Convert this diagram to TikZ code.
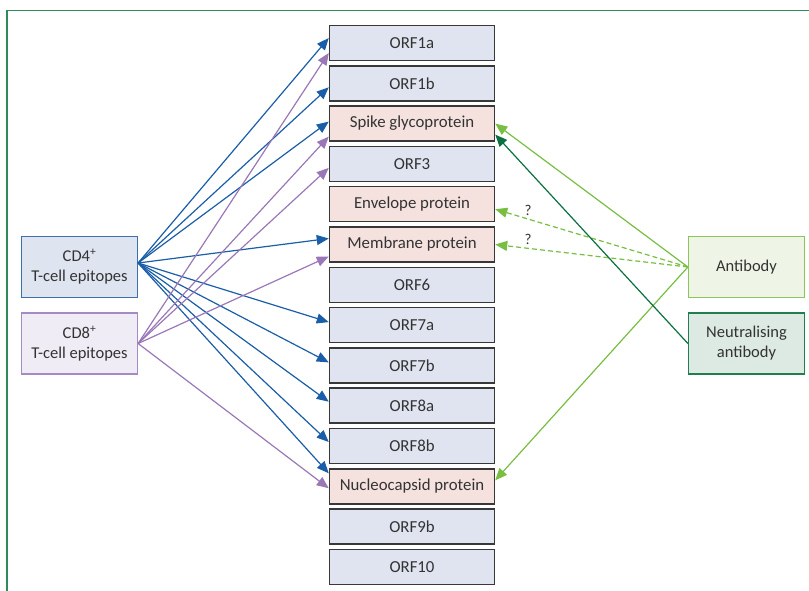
\documentclass[tikz,border=0pt]{standalone}
\usepackage{fontspec}
\setmainfont{Carlito}
\usetikzlibrary{arrows.meta}
\definecolor{frame}{HTML}{2E8B5A}
\definecolor{boxline}{HTML}{383838}
\definecolor{orffill}{HTML}{DFE4F0}
\definecolor{protfill}{HTML}{F5E2DF}
\definecolor{cdfourline}{HTML}{3F6FA8}
\definecolor{cdfourfill}{HTML}{DEE4F0}
\definecolor{cdeightline}{HTML}{A58BC4}
\definecolor{cdeightfill}{HTML}{F0ECF5}
\definecolor{abline}{HTML}{8CC65A}
\definecolor{abfill}{HTML}{EEF5E6}
\definecolor{nabline}{HTML}{1F7F4F}
\definecolor{nabfill}{HTML}{DCEAE3}
\definecolor{bluearr}{HTML}{1A5DA8}
\definecolor{purparr}{HTML}{9A78B8}
\definecolor{lgarr}{HTML}{78BE43}
\definecolor{dgarr}{HTML}{0A7040}
\definecolor{txt}{HTML}{333333}
\tikzset{
  orf/.style={draw=boxline, line width=1.5pt, fill=orffill, minimum width=165pt, minimum height=35pt, inner sep=0pt, text=txt, font=\fontsize{16.8}{19}\selectfont},
  prot/.style={orf, fill=protfill},
  side/.style={line width=1.2pt, minimum width=116pt, minimum height=61pt, inner sep=0pt, align=center, text=txt, font=\fontsize{16.5}{20}\selectfont},
  arr/.style={line width=1.2pt, -{Triangle[length=12pt,width=10pt]}},
  qmark/.style={text=txt, font=\fontsize{15}{17}\selectfont, inner sep=0pt},
}
\begin{document}
\begin{tikzpicture}[x=1pt,y=-1pt]
\useasboundingbox (0,0) rectangle (809,591);
\draw[frame, line width=1.2pt] (7,591) -- (7,10.5) -- (809,10.5);
% centre column
\foreach \n/\t/\s [count=\i from 0] in {orfa/ORF1a/orf, orfb/ORF1b/orf, spike/Spike glycoprotein/prot, orfthree/ORF3/orf, env/Envelope protein/prot, mem/Membrane protein/prot, orfsix/ORF6/orf, orfsevena/ORF7a/orf, orfsevenb/ORF7b/orf, orfeighta/ORF8a/orf, orfeightb/ORF8b/orf, nuc/Nucleocapsid protein/prot, orfnineb/ORF9b/orf, orften/ORF10/orf}
  \node[\s] (\n) at (412, 43+40.3*\i) {\t};
% side boxes
\node[side, draw=cdfourline, fill=cdfourfill] (cd4) at (79.5,267) {CD4\textsuperscript{+}\\T-cell epitopes};
\node[side, draw=cdeightline, fill=cdeightfill] (cd8) at (79.5,343.5) {CD8\textsuperscript{+}\\T-cell epitopes};
\node[side, draw=abline, fill=abfill] (ab) at (746.5,267) {Antibody};
\node[side, draw=nabline, fill=nabfill] (nab) at (746.5,343.5) {Neutralising\\antibody};
% CD4 arrows
\foreach \t/\o in {orfa/5, orfb/-4, spike/2, mem/6, orfsevena/3, orfsevenb/3, orfeighta/4, orfeightb/4, nuc/13}
  \draw[arr, bluearr] ([yshift=4pt]cd4.east) -- ([yshift=\o pt]\t.west);
% CD8 arrows
\foreach \t/\o in {orfa/-10, spike/-13, orfthree/-4, mem/-12, nuc/-2}
  \draw[arr, purparr] (cd8.east) -- ([yshift=\o pt]\t.west);
% antibody arrows
\draw[arr, lgarr] (ab.west) -- (spike.east);
\draw[arr, lgarr] (ab.west) -- ([yshift=6pt]nuc.east);
\draw[arr, lgarr, dash pattern=on 5pt off 3pt] (ab.west) -- node[pos=0.83, above=3pt, qmark] (q1) {?} ([yshift=-5pt]env.east);
\draw[arr, lgarr, dash pattern=on 5pt off 3pt] (ab.west) -- node[pos=0.83, above=3pt, qmark] (q2) {?} (mem.east);
\draw[arr, dgarr] (nab.west) -- ([yshift=-11pt]spike.east);
\end{tikzpicture}
\end{document}
